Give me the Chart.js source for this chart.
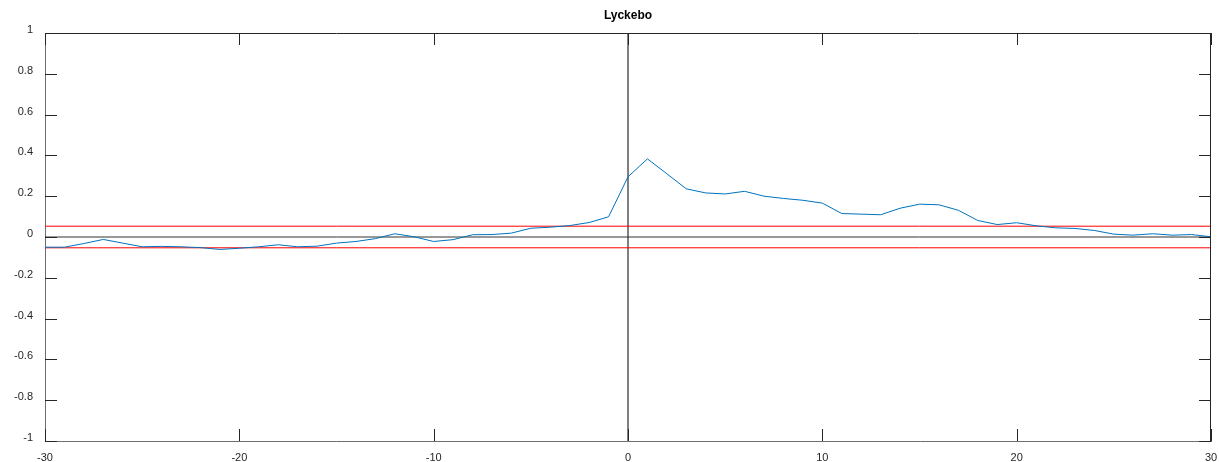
<!DOCTYPE html>
<html>
<head>
<meta charset="utf-8">
<script src="https://cdn.jsdelivr.net/npm/chart.js@4.4.0/dist/chart.umd.min.js"></script>
<style>
  html, body { margin: 0; padding: 0; background: #fff; }
  #wrap { width: 1219px; height: 462px; position: relative; }
</style>
</head>
<body>
<div id="wrap"><canvas id="myChart"></canvas></div>
<script>
const chartTitle = 'Lyckebo';
const lags = [-30, -29, -28, -27, -26, -25, -24, -23, -22, -21, -20, -19, -18, -17, -16, -15, -14, -13, -12, -11, -10,
  -9, -8, -7, -6, -5, -4, -3, -2, -1, 0, 1, 2, 3, 4, 5, 6, 7, 8, 9, 10,
  11, 12, 13, 14, 15, 16, 17, 18, 19, 20, 21, 22, 23, 24, 25, 26, 27, 28, 29, 30];
const corr = [-0.050, -0.050, -0.032, -0.012, -0.030, -0.048, -0.046, -0.048, -0.052, -0.061, -0.055,
  -0.048, -0.038, -0.048, -0.045, -0.030, -0.022, -0.008, 0.016, 0.001, -0.022,
  -0.013, 0.011, 0.012, 0.019, 0.043, 0.048, 0.056, 0.071, 0.099, 0.295,
  0.383, 0.310, 0.236, 0.216, 0.211, 0.224, 0.200, 0.189, 0.180, 0.166,
  0.115, 0.112, 0.109, 0.141, 0.161, 0.158, 0.131, 0.081, 0.061, 0.070,
  0.055, 0.045, 0.042, 0.032, 0.014, 0.009, 0.016, 0.009, 0.012, 0.001];
const upperBound = 0.053;
const lowerBound = -0.053;
const xTicks = [-30, -20, -10, 0, 10, 20, 30];
const yTicks = [-1, -0.8, -0.6, -0.4, -0.2, 0, 0.2, 0.4, 0.6, 0.8, 1];

const FONT = '"Liberation Sans", Arial, sans-serif';

const linePoints = lags.map((x, i) => ({ x: x, y: corr[i] }));
const span = [lags[0], lags[lags.length - 1]];

// ticks inside the box on all four sides, box outline, title
const boxPlugin = {
  id: 'box',
  afterDatasetsDraw(chart) {
    const { ctx, chartArea: a, scales } = chart;
    ctx.save();
    ctx.lineWidth = 1;
    ctx.strokeStyle = '#262626';
    ctx.beginPath();
    ctx.moveTo(a.left, a.top + 0.5);
    ctx.lineTo(a.right, a.top + 0.5);
    ctx.moveTo(a.right - 0.5, a.top);
    ctx.lineTo(a.right - 0.5, a.bottom);
    ctx.stroke();
    ctx.beginPath();
    xTicks.forEach(v => {
      const px = Math.round(scales.x.getPixelForValue(v)) + 0.5;
      ctx.moveTo(px, a.bottom);
      ctx.lineTo(px, a.bottom - 12);
      ctx.moveTo(px, a.top);
      ctx.lineTo(px, a.top + 12);
    });
    yTicks.forEach(v => {
      const py = Math.round(scales.y.getPixelForValue(v)) + 0.5;
      ctx.moveTo(a.left, py);
      ctx.lineTo(a.left + 12, py);
      ctx.moveTo(a.right, py);
      ctx.lineTo(a.right - 12, py);
    });
    ctx.stroke();
    ctx.fillStyle = '#000';
    ctx.font = 'bold 12px ' + FONT;
    ctx.textAlign = 'center';
    ctx.textBaseline = 'middle';
    ctx.fillText(chartTitle, (a.left + a.right) / 2, 16);
    ctx.restore();
  }
};

const config = {
  type: 'line',
  data: {
    datasets: [
      {
        label: 'corr',
        data: linePoints,
        borderColor: '#0072BD',
        borderWidth: 1,
        pointRadius: 0,
        tension: 0,
        order: 0
      },
      {
        label: 'upper',
        data: span.map(x => ({ x: x, y: upperBound })),
        borderColor: '#ff0000',
        borderWidth: 1,
        pointRadius: 0,
        order: 1
      },
      {
        label: 'lower',
        data: span.map(x => ({ x: x, y: lowerBound })),
        borderColor: '#ff0000',
        borderWidth: 1,
        pointRadius: 0,
        order: 1
      },
      {
        label: 'zero',
        data: span.map(x => ({ x: x, y: 0 })),
        borderColor: '#333333',
        borderWidth: 1,
        pointRadius: 0,
        order: 2
      },
      {
        label: 'lag0',
        data: [{ x: 0, y: -1 }, { x: 0, y: 1 }],
        borderColor: '#000000',
        borderWidth: 1,
        pointRadius: 0,
        order: 2
      }
    ]
  },
  options: {
    responsive: false,
    animation: false,
    layout: { padding: { top: 33, right: 8, left: 0, bottom: 0 } },
    plugins: {
      legend: { display: false },
      title: { display: false },
      tooltip: { enabled: false }
    },
    scales: {
      x: {
        type: 'linear',
        min: -30,
        max: 30,
        afterBuildTicks: s => { s.ticks = xTicks.map(v => ({ value: v })); },
        afterFit: s => { s.height = 21; s.paddingLeft = 0; s.paddingRight = 0; },
        grid: { display: false, drawTicks: false },
        border: { display: true, color: '#6e6e6e', width: 1 },
        ticks: {
          color: '#262626',
          padding: 10,
          maxRotation: 0,
          font: { family: FONT, size: 11 },
          callback: v => String(v)
        }
      },
      y: {
        type: 'linear',
        min: -1,
        max: 1,
        afterBuildTicks: s => { s.ticks = yTicks.map(v => ({ value: v })); },
        afterFit: s => { s.width = 45; s.paddingTop = 0; s.paddingBottom = 0; },
        grid: { display: false, drawTicks: false },
        border: { display: true, color: '#6e6e6e', width: 1 },
        ticks: {
          color: '#262626',
          padding: 12,
          labelOffset: -3,
          font: { family: FONT, size: 11 },
          callback: v => String(Math.round(v * 10) / 10)
        }
      }
    }
  },
  plugins: [boxPlugin]
};

const canvas = document.getElementById('myChart');
canvas.width = 1219;
canvas.height = 462;
new Chart(canvas, config);
</script>
</body>
</html>
